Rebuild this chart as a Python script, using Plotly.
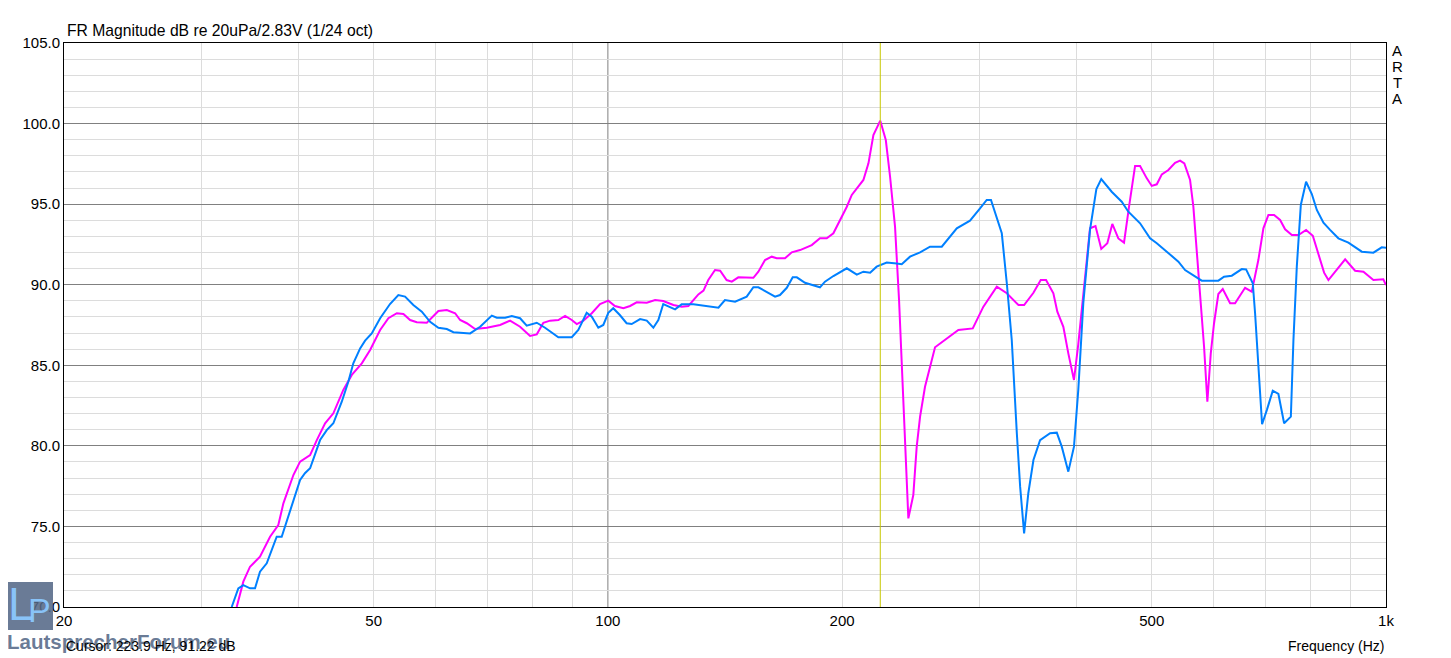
import plotly.graph_objects as go

# ---- data ----
mag_freq = [33.34, 34.0, 34.68, 35.72, 36.80, 37.71, 38.28, 39.43, 40.22, 41.43, 42.26, 43.31, 44.38, 45.71, 46.87,
            48.28, 49.48, 50.97, 52.23, 53.55, 54.60, 55.70, 56.81, 58.52, 60.56, 62.09, 63.63, 64.58, 65.87, 67.51,
            69.89, 72.69, 74.87, 77.12, 79.43, 81.02, 82.62, 84.27, 86.37, 88.10, 89.87, 91.21, 93.01, 95.35, 97.70,
            100.13, 102.1, 104.7, 106.8, 108.9, 112.2, 115.0, 117.8, 121.4, 124.4, 126.9, 128.8, 130.7, 132.7, 134.6,
            137.3, 139.4, 142.1, 144.3, 147.1, 153.8, 156.1, 159.2, 162.4, 164.8, 168.9, 172.3, 176.6, 182.8, 187.3,
            191.1, 194.9, 198.8, 202.8, 205.8, 213.0, 216.2, 219.4, 223.9, 227.6, 230.5, 233.9, 236.7, 238.6, 240.9,
            243.3, 246.9, 249.4, 251.9, 255.6, 263.3, 272.6, 282.1, 294.4, 303.8, 316.1, 325.6, 337.0, 342.7, 352.3,
            360.0, 365.7, 373.7, 378.1, 384.9, 390.6, 397.2, 402.3, 408.3, 416.5, 423.3, 430.6, 438.4, 444.9, 452.9,
            460.6, 467.5, 475.9, 483.0, 492.7, 500.0, 507.5, 515.1, 525.2, 535.7, 543.7, 550.6, 560.0, 565.5, 571.2,
            576.8, 583.7, 589.4, 595.4, 601.2, 608.9, 616.9, 630.4, 639.8, 659.0, 672.2, 685.4, 695.7, 706.1, 718.1,
            731.0, 741.9, 756.8, 771.7, 789.4, 805.3, 818.7, 832.6, 843.3, 864.5, 886.1, 912.6, 935.3, 963.4, 992.2,
            1000.0]
mag_db = [70.0, 71.57, 72.5, 73.12, 74.36, 75.09, 76.43, 78.19, 79.02, 79.43, 80.36, 81.40, 82.02, 83.47, 84.40,
          85.12, 85.95, 87.19, 87.92, 88.23, 88.18, 87.81, 87.67, 87.64, 88.37, 88.43, 88.23, 87.81, 87.61, 87.25,
          87.33, 87.50, 87.77, 87.39, 86.82, 86.92, 87.64, 87.77, 87.81, 88.06, 87.81, 87.56, 87.77, 88.23, 88.80,
          89.01, 88.68, 88.54, 88.68, 88.91, 88.88, 89.05, 88.99, 88.74, 88.64, 88.68, 89.05, 89.40, 89.63, 90.29,
          90.91, 90.87, 90.29, 90.19, 90.46, 90.43, 90.81, 91.53, 91.74, 91.64, 91.64, 92.01, 92.15, 92.46, 92.88,
          92.88, 93.19, 94.02, 94.84, 95.57, 96.50, 97.53, 99.29, 100.18, 98.98, 96.70, 93.60, 89.05, 84.91, 79.74,
          75.50, 76.95, 79.95, 81.81, 83.67, 86.12, 86.67, 87.19, 87.29, 88.64, 89.88, 89.47, 88.74, 88.74, 89.50,
          90.29, 90.29, 89.47, 88.33, 87.39, 85.74, 84.09, 86.32, 89.36, 93.50, 93.64, 92.22, 92.57, 93.77, 92.87,
          92.61, 94.84, 97.37, 97.37, 96.60, 96.13, 96.23, 96.85, 97.12, 97.57, 97.70, 97.53, 96.50, 94.84, 92.15,
          89.05, 86.15, 82.74, 85.74, 87.61, 89.42, 89.73, 88.85, 88.85, 89.81, 89.57, 91.53, 93.50, 94.33, 94.33,
          94.02, 93.44, 93.08, 93.08, 93.40, 93.04, 91.84, 90.75, 90.29, 90.91, 91.58, 90.87, 90.81, 90.29, 90.34,
          89.98]

blue_freq = [32.85, 33.50, 34.0, 34.68, 35.20, 35.72, 36.44, 37.53, 38.09, 39.04, 40.22, 40.80, 41.43, 42.67, 43.52,
             44.38, 45.50, 46.39, 47.08, 48.04, 48.75, 49.72, 50.97, 52.48, 53.79, 54.87, 56.23, 57.66, 59.09, 60.56,
             62.09, 63.31, 66.52, 68.52, 70.93, 71.98, 73.78, 75.25, 77.12, 78.65, 81.02, 83.03, 86.37, 89.87, 91.62,
             93.92, 95.35, 97.21, 98.66, 100.13, 101.6, 103.6, 105.7, 107.3, 110.0, 112.2, 114.4, 116.1, 117.8, 122.0,
             124.4, 128.8, 134.0, 138.7, 141.4, 145.7, 150.8, 153.8, 156.1, 160.0, 164.0, 166.4, 169.8, 172.8, 174.9,
             179.2, 183.7, 187.3, 190.1, 194.9, 202.8, 208.9, 213.0, 217.3, 221.5, 228.2, 235.1, 238.6, 244.5, 251.9,
             259.4, 268.6, 280.8, 292.0, 300.8, 306.8, 310.7, 316.1, 320.8, 325.6, 330.4, 335.4, 338.7, 342.7, 347.0,
             352.3, 359.3, 370.1, 377.5, 383.1, 390.6, 397.2, 402.3, 408.3, 416.5, 424.4, 430.6, 444.1, 457.5, 466.5,
             483.0, 497.5, 507.5, 522.7, 541.0, 551.8, 565.5, 579.7, 608.9, 619.3, 633.6, 652.6, 661.0, 674.2, 678.8,
             685.4, 693.0, 702.8, 715.3, 727.3, 739.7, 754.6, 760.4, 768.0, 777.2, 789.4, 802.9, 814.9, 831.0, 847.5,
             868.6, 894.7, 930.9, 963.4, 987.5, 1000.0]
blue_db = [70.0, 71.16, 71.36, 71.16, 71.16, 72.19, 72.71, 74.36, 74.36, 76.02, 77.88, 78.30, 78.61, 80.36, 80.98,
           81.40, 82.74, 83.98, 85.12, 86.05, 86.53, 86.98, 87.92, 88.80, 89.36, 89.26, 88.74, 88.33, 87.70, 87.33,
           87.25, 87.05, 86.98, 87.39, 88.08, 87.95, 87.95, 88.06, 87.92, 87.46, 87.64, 87.33, 86.74, 86.74, 87.19,
           88.26, 88.01, 87.33, 87.50, 88.26, 88.54, 88.12, 87.61, 87.56, 87.87, 87.77, 87.33, 87.81, 88.80, 88.47,
           88.78, 88.78, 88.68, 88.57, 89.05, 88.95, 89.26, 89.84, 89.84, 89.57, 89.26, 89.36, 89.81, 90.46, 90.46,
           90.12, 89.98, 89.84, 90.19, 90.54, 91.02, 90.63, 90.81, 90.75, 91.12, 91.38, 91.32, 91.27, 91.74, 92.01,
           92.36, 92.36, 93.50, 93.97, 94.74, 95.26, 95.26, 94.22, 93.19, 90.09, 86.57, 80.78, 77.47, 74.57, 77.06,
           79.12, 80.36, 80.78, 80.82, 79.95, 78.40, 79.95, 83.47, 88.85, 93.40, 95.94, 96.56, 95.77, 95.15, 94.53,
           93.81, 92.88, 92.57, 92.05, 91.43, 90.91, 90.60, 90.25, 90.25, 90.50, 90.56, 90.97, 90.95, 90.09, 88.23,
           84.91, 81.34, 82.22, 83.42, 83.22, 81.40, 81.81, 86.57, 91.12, 94.95, 96.39, 95.63, 94.64, 93.85, 93.40,
           92.88, 92.61, 92.05, 91.99, 92.32, 92.30]

x_tick_vals = [20, 50, 100, 200, 500, 1000]
x_tick_text = ["20", "50", "100", "200", "500", "1k"]
x_minor_vals = [30, 40, 50, 60, 70, 80, 90, 200, 300, 400, 500, 600, 700, 800, 900]
x_major_grid = [100]
cursor_freq = 223.9
cursor_db = 91.22
side_letters = ["A", "R", "T", "A"]

FONT = "Liberation Sans, Arial, sans-serif"

# the page has an 8px body margin: the figure is shrunk and margins reduced to compensate
W, H = 1443, 650
L, T, R, B = 56, 35, 65, 51
PW = W - L - R   # 1322
PH = H - T - B   # 564

fig = go.Figure()
fig.add_trace(go.Scatter(x=mag_freq, y=mag_db, mode="lines",
                         line=dict(color="#ff00ff", width=2), showlegend=False))
fig.add_trace(go.Scatter(x=blue_freq, y=blue_db, mode="lines",
                         line=dict(color="#0080ff", width=2), showlegend=False))

for xv in x_major_grid:
    fig.add_shape(type="line", xref="x", yref="paper", x0=xv, x1=xv, y0=0, y1=1,
                  line=dict(color="#808080", width=1), layer="below")
fig.add_shape(type="line", xref="x", yref="paper", x0=cursor_freq, x1=cursor_freq, y0=0, y1=1,
              line=dict(color="#c8c800", width=1), layer="above")

fig.update_xaxes(type="log", range=[1.30103, 3.0], tickvals=x_tick_vals, ticktext=x_tick_text,
                 showgrid=False, zeroline=False, showline=True, mirror=True, linecolor="black", linewidth=1,
                 ticks="", tickfont=dict(family=FONT, size=15, color="black"),
                 minor=dict(tickvals=x_minor_vals, showgrid=True, gridcolor="#dcdcdc", gridwidth=1, ticks=""))
fig.update_yaxes(range=[70, 105], dtick=5, tick0=70, tickformat=".1f", showgrid=True, gridcolor="#808080",
                 gridwidth=1, zeroline=False, showline=True, mirror=True, linecolor="black", linewidth=1,
                 ticks="", tickfont=dict(family=FONT, size=15, color="black"),
                 minor=dict(dtick=1, showgrid=True, gridcolor="#dcdcdc", gridwidth=1, ticks=""))


def px_x(px):
    return (px - 8 - L) / PW


def px_y(py):
    return (T + PH - (py - 8)) / PH


# watermark logo box
fig.add_shape(type="rect", xref="paper", yref="paper",
              x0=px_x(5), x1=px_x(53), y0=px_y(630), y1=px_y(582),
              fillcolor="rgba(85,105,135,0.88)", line=dict(width=0), layer="above")

annotations = [
    dict(text="FR Magnitude dB re 20uPa/2.83V (1/24 oct)", xref="paper", yref="paper", x=px_x(65), y=1.0,
         xanchor="left", yanchor="middle", yshift=13, showarrow=False,
         font=dict(family=FONT, size=15.7, color="black")),
    dict(text="Frequency (Hz)", xref="paper", yref="paper", x=1.0, y=0, xanchor="right", yanchor="middle",
         yshift=-39, showarrow=False, font=dict(family=FONT, size=14, color="black")),
    dict(text="L", xref="paper", yref="paper", x=px_x(21), y=px_y(604),
         xanchor="center", yanchor="middle", showarrow=False,
         font=dict(family=FONT, size=46, color="rgba(140,200,255,0.95)")),
    dict(text="P", xref="paper", yref="paper", x=px_x(39), y=px_y(610),
         xanchor="center", yanchor="middle", showarrow=False,
         font=dict(family=FONT, size=34, color="rgba(140,200,255,0.95)")),
    dict(text="<b>LautsprecherForum.eu</b>", xref="paper", yref="paper", x=px_x(5), y=px_y(641),
         xanchor="left", yanchor="middle", showarrow=False,
         font=dict(family=FONT, size=20.5, color="rgba(85,105,135,0.88)")),
    dict(text=f"Cursor: {cursor_freq} Hz, {cursor_db} dB", xref="paper", yref="paper", x=px_x(64), y=0,
         xanchor="left", yanchor="middle", yshift=-39, showarrow=False,
         font=dict(family=FONT, size=14, color="black")),
]
for i, letter in enumerate(side_letters):
    annotations.append(dict(text=letter, xref="paper", yref="paper", x=1.0, y=1.0, xanchor="center",
                            yanchor="middle", xshift=11, yshift=-(7 + 16.3 * i), showarrow=False,
                            font=dict(family=FONT, size=15, color="black")))

fig.update_layout(width=W, height=H, margin=dict(l=L, r=R, t=T, b=B, autoexpand=False),
                  plot_bgcolor="white", paper_bgcolor="white", annotations=annotations,
                  font=dict(family=FONT, size=15, color="black"))

fig.write_html("out.html")
